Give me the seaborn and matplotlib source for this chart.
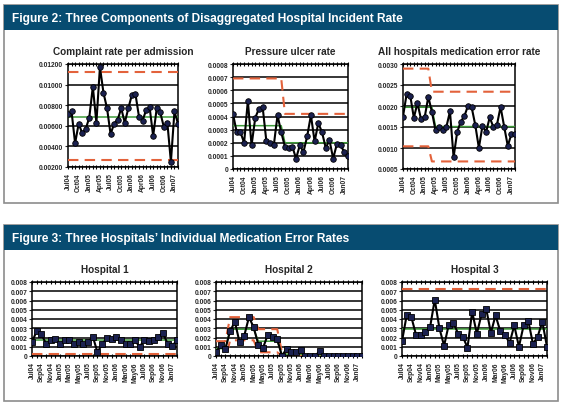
import numpy as np
import pandas as pd
import seaborn as sns
import matplotlib.pyplot as plt
from matplotlib.patches import Rectangle

months = ['Jul04', 'Aug04', 'Sep04', 'Oct04', 'Nov04', 'Dec04',
          'Jan05', 'Feb05', 'Mar05', 'Apr05', 'May05', 'Jun05',
          'Jul05', 'Aug05', 'Sep05', 'Oct05', 'Nov05', 'Dec05',
          'Jan06', 'Feb06', 'Mar06', 'Apr06', 'May06', 'Jun06',
          'Jul06', 'Aug06', 'Sep06', 'Oct06', 'Nov06', 'Dec06',
          'Jan07', 'Feb07']

# Figure 2 series
complaint = [0.0071, 0.0074, 0.0043, 0.0062, 0.0053, 0.0057, 0.0068, 0.0098,
             0.0063, 0.0117, 0.0092, 0.0077, 0.0052, 0.0062, 0.0066, 0.0077,
             0.0063, 0.0077, 0.0090, 0.0091, 0.0069, 0.0065, 0.0075, 0.0078,
             0.0050, 0.0077, 0.0073, 0.0059, 0.0063, 0.0025, 0.0074, 0.0062]
complaint_cl = [0.0069] * 32
complaint_ucl = [0.0112] * 32
complaint_lcl = [0.0027] * 32

ulcer = [0.00042, 0.00028, 0.00028, 0.00020, 0.00052, 0.00018, 0.00039, 0.00046,
         0.00047, 0.00021, 0.00020, 0.00018, 0.00041, 0.00028, 0.00017, 0.00016,
         0.00017, 0.00008, 0.00018, 0.00013, 0.00025, 0.00041, 0.00021, 0.00035,
         0.00028, 0.00016, 0.00022, 0.00008, 0.00019, 0.00018, 0.00013, 0.00010]
ulcer_cl = [0.00033] * 14 + [0.00020] * 18
ulcer_ucl = [0.00069] * 14 + [0.00042] * 18

medication = [0.00175, 0.00228, 0.00225, 0.00172, 0.00207, 0.00168, 0.00173, 0.00222,
              0.00186, 0.00142, 0.00150, 0.00143, 0.00150, 0.00187, 0.00078, 0.00138,
              0.00163, 0.00176, 0.00201, 0.00197, 0.00155, 0.00100, 0.00153, 0.00138,
              0.00173, 0.00150, 0.00155, 0.00198, 0.00151, 0.00105, 0.00133, 0.00133]
medication_cl = [0.00197] * 9 + [0.00151] * 23
medication_ucl = [0.00289] * 8 + [0.00234] * 24
medication_lcl = [0.00104] * 8 + [0.00068] * 24

# Figure 3 series
hosp1 = [0.0015, 0.0027, 0.0024, 0.0013, 0.0017, 0.0018, 0.0013, 0.0017,
         0.0017, 0.0013, 0.0015, 0.0013, 0.0015, 0.0021, 0.0004, 0.0013,
         0.0019, 0.0018, 0.0021, 0.0017, 0.0013, 0.0013, 0.0017, 0.0010,
         0.0017, 0.0016, 0.0017, 0.0021, 0.0025, 0.0013, 0.0011, 0.0017]
hosp1_cl = [0.0017] * 32
hosp1_lcl = [0.0002] * 32

hosp2 = [0.0004, 0.0012, 0.0008, 0.0027, 0.0037, 0.0015, 0.0022, 0.0042,
         0.0031, 0.0012, 0.0009, 0.0023, 0.0021, 0.0018, 0.0000, 0.0008,
         0.0004, 0.0004, 0.0007, 0.0000, 0.0000, 0.0000, 0.0005, 0.0000,
         0.0000, 0.0000, 0.0000, 0.0000, 0.0000, 0.0000, 0.0000, 0.0000]
hosp2_cl = [0.0008] * 3 + [0.0029] * 6 + [0.0016] * 5 + [0.0002] * 5 + [0.0] * 13
hosp2_ucl = [0.0016] * 3 + [0.0042] * 6 + [0.0029] * 5 + [0.0004] * 5 + [0.0] * 13
hosp2_lcl = [-0.0003] * 3 + [0.0017] * 6 + [0.0004] * 5 + [0.0] * 5 + [0.0] * 13

hosp3 = [0.0016, 0.0044, 0.0042, 0.0023, 0.0023, 0.0026, 0.0031, 0.0061,
         0.0030, 0.0011, 0.0034, 0.0036, 0.0024, 0.0021, 0.0009, 0.0048,
         0.0024, 0.0045, 0.0051, 0.0025, 0.0044, 0.0027, 0.0023, 0.0014,
         0.0033, 0.0010, 0.0033, 0.0038, 0.0013, 0.0021, 0.0037, 0.0010]
hosp3_cl = [0.0029] * 32
hosp3_ucl = [0.0072] * 32

W, H = 561, 406
HEADER = '#074c71'
GREEN = '#3f9b3a'
RED = '#e3623b'
DOT = '#1b2150'

sns.set_style('white')
plt.rcParams['font.family'] = ['Liberation Sans', 'DejaVu Sans']

fig = plt.figure(figsize=(W / 100, H / 100), dpi=100)


def px_axes(x0, y0, x1, y1):
    return fig.add_axes([x0 / W, 1 - y1 / H, (x1 - x0) / W, (y1 - y0) / H])


def box(x0, y0, x1, y1, title):
    fig.patches.append(Rectangle((x0 / W, 1 - y1 / H), (x1 - x0) / W, (y1 - y0) / H,
                                 transform=fig.transFigure, fc='white', ec='#8c8c8c',
                                 lw=1.2, zorder=-5))
    fig.patches.append(Rectangle((x0 / W, 1 - (y0 + 25) / H), (x1 - x0) / W, 25 / H,
                                 transform=fig.transFigure, fc=HEADER, ec=HEADER,
                                 lw=0, zorder=-4))
    fig.text((x0 + 8) / W, 1 - (y0 + 13) / H, title, color='white', fontsize=8.6,
             fontweight='bold', va='center', ha='left')


def spc_panel(ax, values, cl, limits, marker, ylim, ystep, fmt, label_step, title):
    x = np.arange(len(values))
    for lim in limits:
        sns.lineplot(x=x, y=lim, ax=ax, color=RED, lw=1.5, linestyle=(0, (5, 3)), zorder=3)
    sns.lineplot(x=x, y=cl, ax=ax, color=GREEN, lw=1.1, zorder=3)
    sns.lineplot(x=x, y=values, ax=ax, color='black', lw=1.5, marker=marker, markersize=4,
                 markerfacecolor=DOT, markeredgecolor='black', markeredgewidth=0.6, zorder=4)
    ax.set_xlim(0, len(values) - 1)
    ax.set_ylim(*ylim)
    yt = np.arange(ylim[0], ylim[1] + ystep / 2, ystep)
    ax.set_yticks(yt)
    ax.set_yticklabels(['0' if abs(v) < 1e-12 else fmt.format(v) for v in yt],
                       fontsize=4.8, fontweight='bold')
    ax.set_xticks(x, minor=True)
    ax.set_xticks(x[::label_step])
    ax.set_xticklabels(months[::label_step], rotation=90, fontsize=4.8, fontweight='bold')
    ax.tick_params(axis='x', which='both', direction='inout', length=3.5, width=0.8,
                   top=True, bottom=True, color='black', pad=2)
    ax.tick_params(axis='y', direction='out', length=2, width=0.8, left=True, pad=1.5)
    ax.yaxis.grid(True, color='black', lw=1.1)
    ax.set_axisbelow(True)
    for s in ax.spines.values():
        s.set_color('black')
        s.set_linewidth(1.1)
    ax.set_xlabel('')
    ax.set_ylabel('')
    ax.set_title(title, fontsize=7.2, fontweight='bold', pad=7)


box(4, 6, 558, 204, 'Figure 2: Three Components of Disaggregated Hospital Incident Rate')
box(4, 226, 558, 402, 'Figure 3: Three Hospitals\u2019 Individual Medication Error Rates')

ax1 = px_axes(68, 65, 178, 168)
spc_panel(ax1, complaint, complaint_cl, [complaint_ucl, complaint_lcl], 'o',
          (0.002, 0.012), 0.002, '{:.5f}', 3, 'Complaint rate per admission')
ax2 = px_axes(233, 65, 348, 170)
spc_panel(ax2, ulcer, ulcer_cl, [ulcer_ucl], 'o',
          (0.0, 0.0008), 0.0001, '{:.4f}', 3, 'Pressure ulcer rate')
ax3 = px_axes(403, 65, 515, 170)
spc_panel(ax3, medication, medication_cl, [medication_ucl, medication_lcl], 'o',
          (0.0005, 0.0030), 0.0005, '{:.4f}', 3, 'All hospitals medication error rate')

ax4 = px_axes(32, 283, 177, 357)
spc_panel(ax4, hosp1, hosp1_cl, [hosp1_lcl], 's',
          (0.0, 0.008), 0.001, '{:.3f}', 2, 'Hospital 1')
ax5 = px_axes(216, 283, 362, 357)
spc_panel(ax5, hosp2, hosp2_cl, [hosp2_ucl, hosp2_lcl], 's',
          (0.0, 0.008), 0.001, '{:.3f}', 2, 'Hospital 2')
ax6 = px_axes(402, 283, 547, 357)
spc_panel(ax6, hosp3, hosp3_cl, [hosp3_ucl], 's',
          (0.0, 0.008), 0.001, '{:.3f}', 2, 'Hospital 3')

for a in [ax1, ax2, ax3, ax4, ax5, ax6]:
    if a.get_legend() is not None:
        a.get_legend().remove()

fig.savefig('out.png', dpi=100)
